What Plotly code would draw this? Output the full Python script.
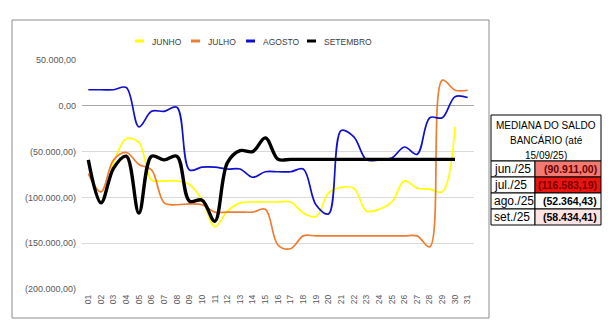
import plotly.graph_objects as go

# ---------------- data ----------------
days = [f"{d:02d}" for d in range(1, 32)]

junho = [-59000, -104000, -62000, -36000, -40000, -81000, -82000, -82000, -86000, -103000,
         -132000, -115000, -106000, -105000, -105000, -105000, -105000, -117000, -121000, -95000,
         -89000, -90000, -115000, -113000, -105000, -82000, -90000, -91000, -94000, -23000]

julho = [-74000, -94000, -59000, -51000, -64000, -70000, -106000, -108000, -107000, -108000,
         -116000, -116000, -116000, -116000, -113000, -152000, -156000, -142000, -142000, -142000,
         -142000, -142000, -142000, -142000, -142000, -142000, -142000, -154000, 28000, 17000,
         17000]

agosto = [17500, 17500, 17500, 20000, -23000, -6000, -6000, -1500, -70000, -67000,
          -67000, -69000, -69000, -78000, -72000, -72000, -72000, -69000, -108000, -118000,
          -27000, -34000, -59000, -59000, -57000, -45000, -53000, -13000, -13000, 10000,
          9000]

setembro = [-59000, -106000, -68000, -55000, -117000, -55000, -59000, -55000, -104000, -103000,
            -126000, -62000, -49000, -50000, -35000, -58434.41, -58434.41, -58434.41, -58434.41, -58434.41,
            -58434.41, -58434.41, -58434.41, -58434.41, -58434.41, -58434.41, -58434.41, -58434.41, -58434.41, -58434.41]

series_names = ["JUNHO", "JULHO", "AGOSTO", "SETEMBRO"]
series_data = [junho, julho, agosto, setembro]
series_colors = ["#FFFF00", "#ED7D31", "#1010CC", "#000000"]
series_widths = [1.7, 1.7, 1.7, 3.4]

y_tickvals = [50000, 0, -50000, -100000, -150000, -200000]
y_ticktext = ["50.000,00", "0,00", "(50.000,00)", "(100.000,00)", "(150.000,00)", "(200.000,00)"]

table_title = ["MEDIANA DO SALDO", "BANCÁRIO (até", "15/09/25)"]
table_months = ["jun./25", "jul./25", "ago./25", "set./25"]
table_medians = [-90911.00, -116583.19, -52364.43, -58434.41]
table_fill = ["#F17A72", "#E8150E", "#FFFFFF", "#FCE3E3"]
table_textcolor = ["#6B0000", "#7A0000", "#000000", "#000000"]


def fmt_br(v):
    s = f"{abs(v):,.2f}".replace(",", "X").replace(".", ",").replace("X", ".")
    return f"({s})" if v < 0 else s


# ---------------- layout helpers (pixel geometry) ----------------
W, H = 616, 334
PL, PR, PT, PB = 82, 474, 60, 289


def px(x):
    return (x - PL) / (PR - PL)


def py(y):
    return (PB - y) / (PB - PT)


FONT = "Liberation Sans, Arial, sans-serif"

fig = go.Figure()
for name, vals, col, wd in zip(series_names, series_data, series_colors, series_widths):
    fig.add_trace(go.Scatter(
        x=days[:len(vals)], y=vals, name=name, mode="lines",
        line=dict(color=col, width=wd, shape="spline", smoothing=1.0),
        showlegend=False, hoverinfo="skip",
    ))

shapes = []
annotations = []

# chart outer border
shapes.append(dict(type="rect", xref="paper", yref="paper",
                   x0=px(12), x1=px(489), y0=py(318), y1=py(20),
                   line=dict(color="#8C8C8C", width=1), layer="below"))

# manual legend
leg_marker_x = [135, 191, 246, 307]
for name, col, lx in zip(series_names, series_colors, leg_marker_x):
    shapes.append(dict(type="line", xref="paper", yref="paper",
                       x0=px(lx), x1=px(lx + 9), y0=py(41), y1=py(41),
                       line=dict(color=col, width=3)))
    annotations.append(dict(xref="paper", yref="paper", x=px(lx + 15), y=py(41.5),
                            text=name, showarrow=False, xanchor="left", yanchor="middle",
                            font=dict(family=FONT, size=8.5, color="#404040")))

# table
TX0, TXM, TX1 = 491, 535, 601
TY0, THB = 115, 161
ROWH = 16
tb_line = dict(color="#000000", width=1)
shapes.append(dict(type="rect", xref="paper", yref="paper",
                   x0=px(TX0), x1=px(TX1), y0=py(THB), y1=py(TY0),
                   fillcolor="#FFFFFF", line=tb_line))
for title_i, t in enumerate(table_title):
    annotations.append(dict(xref="paper", yref="paper", x=px((TX0 + TX1) / 2),
                            y=py(TY0 + 10 + 15 * title_i), text=t, showarrow=False,
                            xanchor="center", yanchor="middle",
                            font=dict(family=FONT, size=10, color="#000000")))
for i, (m, v, fc, tc) in enumerate(zip(table_months, table_medians, table_fill, table_textcolor)):
    y0 = THB + ROWH * i
    y1 = y0 + ROWH
    shapes.append(dict(type="rect", xref="paper", yref="paper",
                       x0=px(TX0), x1=px(TXM), y0=py(y1), y1=py(y0),
                       fillcolor="#FFFFFF", line=tb_line))
    shapes.append(dict(type="rect", xref="paper", yref="paper",
                       x0=px(TXM), x1=px(TX1), y0=py(y1), y1=py(y0),
                       fillcolor=fc, line=tb_line))
    annotations.append(dict(xref="paper", yref="paper", x=px(TX0 + 1), y=py((y0 + y1) / 2),
                            text=m, showarrow=False, xanchor="left", yanchor="middle",
                            font=dict(family=FONT, size=12, color="#000000")))
    annotations.append(dict(xref="paper", yref="paper", x=px(TX1 - 2), y=py((y0 + y1) / 2),
                            text=f"<b>{fmt_br(v)}</b>", showarrow=False, xanchor="right",
                            yanchor="middle",
                            font=dict(family=FONT, size=10.5, color=tc)))

fig.update_layout(
    width=W, height=H,
    margin=dict(l=PL, r=W - PR, t=PT, b=H - PB, autoexpand=False),
    paper_bgcolor="#FFFFFF", plot_bgcolor="#FFFFFF",
    showlegend=False,
    shapes=shapes, annotations=annotations,
    font=dict(family=FONT, color="#595959"),
    xaxis=dict(type="category", categoryorder="array", categoryarray=days,
               range=[-0.5, 30.5], tickangle=-90, showgrid=False, zeroline=False,
               showline=False, ticks="", ticklabelstandoff=3,
               tickfont=dict(family=FONT, size=8.5, color="#595959"),
               fixedrange=True),
    yaxis=dict(range=[-200000, 50000], tickvals=y_tickvals, ticktext=y_ticktext,
               showgrid=True, gridcolor="#D9D9D9", gridwidth=1,
               zeroline=True, zerolinecolor="#A6A6A6", zerolinewidth=1,
               showline=False, ticks="", ticklabelstandoff=5,
               tickfont=dict(family=FONT, size=9, color="#595959"), fixedrange=True),
)

fig.write_html("out.html")
